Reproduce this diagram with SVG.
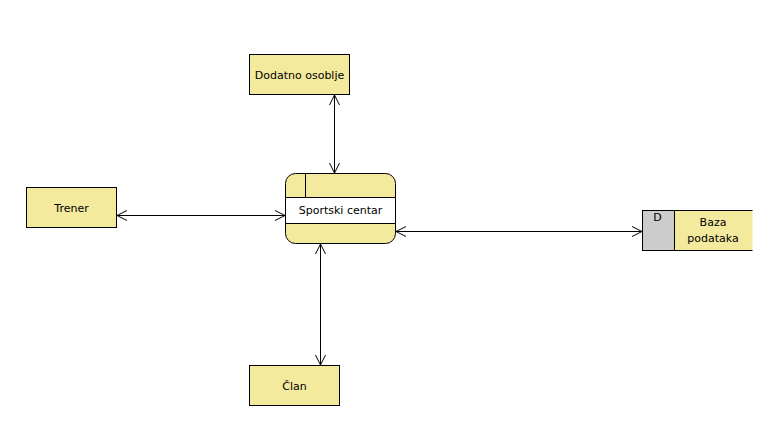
<svg xmlns="http://www.w3.org/2000/svg" width="783" height="446" viewBox="0 0 783 446">
  <defs>
    <style>
      .box { fill: #f3ea9e; stroke: #000; stroke-width: 1; }
      .line { fill: none; stroke: #000; stroke-width: 1; }
      .lbl { font-family: "DejaVu Sans", sans-serif; font-size: 11px; fill: #000; text-anchor: middle; }
    </style>
    <marker id="open" viewBox="0 0 12 12" refX="11" refY="6" markerWidth="12" markerHeight="12" markerUnits="userSpaceOnUse" orient="auto-start-reverse">
      <path d="M1,1 L11,6 L1,11" fill="none" stroke="#000" stroke-width="1"/>
    </marker>
  </defs>
  <rect width="783" height="446" fill="#fff"/>

  <g id="connectors">
    <line class="line" x1="334.5" y1="95" x2="334.5" y2="173" marker-start="url(#open)" marker-end="url(#open)"/>
    <line class="line" x1="117" y1="215.5" x2="285" y2="215.5" marker-start="url(#open)" marker-end="url(#open)"/>
    <line class="line" x1="396" y1="231.5" x2="642" y2="231.5" marker-start="url(#open)" marker-end="url(#open)"/>
    <line class="line" x1="320.5" y1="244" x2="320.5" y2="365" marker-start="url(#open)" marker-end="url(#open)"/>
  </g>

  <g id="dodatno-osoblje">
    <rect class="box" x="249.5" y="54.5" width="100" height="40"/>
    <text class="lbl" x="299.5" y="78.5">Dodatno osoblje</text>
  </g>

  <g id="trener">
    <rect class="box" x="26.5" y="187.5" width="90" height="40"/>
    <text class="lbl" x="71.5" y="211.5">Trener</text>
  </g>

  <g id="sportski-centar">
    <rect class="box" x="285.5" y="173.5" width="110" height="70" rx="10" ry="10"/>
    <rect x="285.5" y="197.5" width="110" height="26" fill="#fff" stroke="#000"/>
    <line class="line" x1="305.5" y1="173.5" x2="305.5" y2="197.5"/>
    <text class="lbl" x="340.5" y="214">Sportski centar</text>
  </g>

  <g id="baza-podataka">
    <rect x="642.5" y="210.5" width="110" height="40" fill="#f3ea9e"/>
    <rect x="642.5" y="210.5" width="32" height="40" fill="#cccccc" stroke="#000"/>
    <path class="line" d="M674.5,210.5 H752.5 M674.5,250.5 H752.5"/>
    <text class="lbl" x="657.5" y="221">D</text>
    <text class="lbl" x="713" y="226">Baza</text>
    <text class="lbl" x="713" y="242">podataka</text>
  </g>

  <g id="clan">
    <rect class="box" x="249.5" y="365.5" width="90" height="40"/>
    <text class="lbl" x="294.5" y="389.5">Član</text>
  </g>
</svg>
